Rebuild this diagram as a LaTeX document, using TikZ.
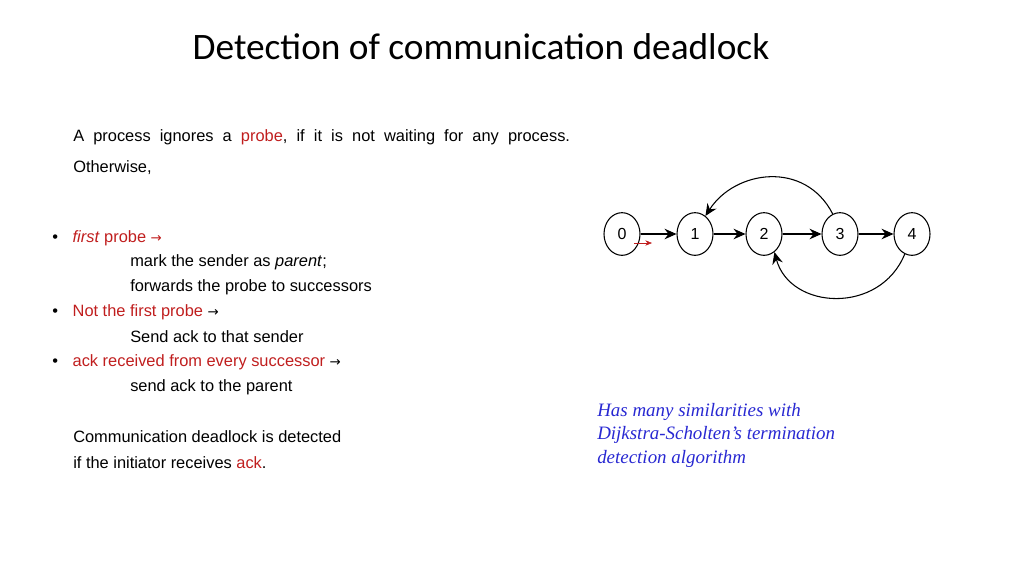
\documentclass[tikz,border=0pt]{standalone}
\usepackage{fontspec}
\setmainfont{Liberation Sans}
\newfontfamily\titlefont{Carlito}
\newfontfamily\notefont{Liberation Serif}
\newfontfamily\symfont{DejaVu Sans}
\newcommand{\rarr}{{\symfont\fontsize{10}{12}\selectfont →}}
\usetikzlibrary{arrows.meta,shapes.geometric}
\definecolor{myred}{RGB}{192,30,30}
\definecolor{myblue}{RGB}{40,40,210}
\begin{document}
\begin{tikzpicture}[x=0.75pt,y=-0.75pt,
  txt/.style={anchor=west,inner sep=0,font=\fontsize{12.3}{14}\selectfont},
  pnode/.style={draw,ellipse,thick,minimum width=27pt,minimum height=32pt,inner sep=0,font=\fontsize{12}{14}\selectfont},
  arr/.style={-{Stealth[length=9pt,width=8pt,inset=3pt]},thick}]
\useasboundingbox (0,0) rectangle (1024,576);
\node[inner sep=0,font=\titlefont\fontsize{28}{32}\selectfont] (title) at (481,47) {Detection of communication deadlock};
\node[txt] (l1) at (73,137) {A\ \ process\ \ ignores\ \ a\ \ \textcolor{myred}{probe},\ \ if\ \ it\ \ is\ \ not\ \ waiting\ \ for\ \ any\ \ process.};
\node[txt] (l2) at (73,168) {Otherwise,};
\node[txt] (b1) at (52,238) {•\hspace{11pt}\textcolor{myred}{\textit{first} probe \rarr}};
\node[txt] (l3) at (130,262) {mark the sender as \textit{parent};};
\node[txt] (l4) at (130,287) {forwards the probe to successors};
\node[txt] (b2) at (52,312) {•\hspace{11pt}\textcolor{myred}{Not the first probe} \rarr};
\node[txt] (l5) at (130,337) {Send ack to that sender};
\node[txt] (b3) at (52,362) {•\hspace{11pt}\textcolor{myred}{ack received from every successor} \rarr};
\node[txt] (l6) at (130,387) {send ack to the parent};
\node[txt] (l7) at (73,437) {Communication deadlock is detected};
\node[txt] (l8) at (73,463) {if the initiator receives \textcolor{myred}{ack}.};
\node[anchor=north west,inner sep=0,align=left,text=myblue,font=\notefont\itshape\fontsize{14.2}{17.5}\selectfont] (note) at (597,403) {Has many similarities with\\Dijkstra-Scholten’s termination\\detection algorithm};
\node[pnode] (n0) at (622,234) {0};
\node[pnode] (n1) at (695,234) {1};
\node[pnode] (n2) at (764,234) {2};
\node[pnode] (n3) at (840,234) {3};
\node[pnode] (n4) at (912,234) {4};
\draw[arr] (n0) -- (n1);
\draw[arr] (n1) -- (n2);
\draw[arr] (n2) -- (n3);
\draw[arr] (n3) -- (n4);
\draw[arr] (n3.110) .. controls (805,160) and (735,170) .. (n1.60);
\draw[arr] (n4.250) .. controls (880,315) and (790,310) .. (n2.-60);
\coordinate (r0) at (634,243);
\coordinate (r1) at (652,243);
\draw[myred,-{Stealth[length=5pt,width=4pt]}] (r0) -- (r1);
\end{tikzpicture}
\end{document}
